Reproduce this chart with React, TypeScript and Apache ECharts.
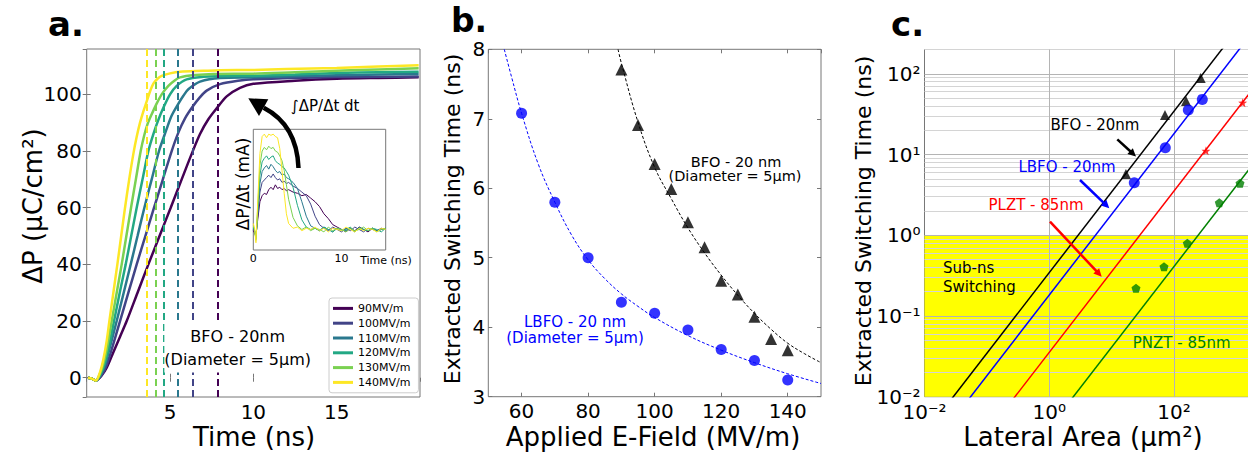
import React, { useEffect, useRef } from 'react';
import * as echarts from 'echarts';

const FONT = 'DejaVu Sans';

// ---------- Panel a: polarization curves ----------
const CURVE_NAMES = ['90MV/m', '100MV/m', '110MV/m', '120MV/m', '130MV/m', '140MV/m'];
const VIRIDIS = ['#440154', '#414487', '#2a788e', '#22a884', '#7ad151', '#fde725'];
const SWITCH_T = [7.86, 6.34, 5.46, 4.62, 4.16, 3.6];

const C90 = [[0.08, 0], [0.3, -0.3], [0.55, -1], [0.9, 0.8], [1.2, 3.5], [1.6, 9], [2.0, 14.5], [2.4, 20], [3.05, 30], [3.7, 40], [4.37, 50], [5.04, 60], [5.7, 70], [6.3, 79], [6.8, 86], [7.3, 91.2], [7.86, 95.5], [8.4, 99.3], [9.2, 102.3], [10, 103.7], [12.5, 104.8], [15, 105.5], [17.5, 105.8], [19.92, 106]];
const C100 = [[0.08, 0], [0.3, -0.3], [0.55, -1], [0.9, 1], [1.2, 4.5], [1.55, 11], [2.0, 20], [2.5, 30], [3.0, 40], [3.52, 50], [4.04, 60], [4.57, 70], [5.1, 80], [5.5, 86.5], [5.9, 91.5], [6.34, 95.5], [6.8, 99], [7.2, 101.3], [8, 103.6], [9.2, 104.9], [10, 105.3], [12.5, 105.8], [15, 106.1], [17.5, 106.2], [19.92, 106.3]];
const C110 = [[0.08, 0], [0.3, -0.3], [0.55, -1], [0.85, 1.2], [1.1, 4.5], [1.4, 11], [1.8, 20], [2.22, 30], [2.64, 40], [3.05, 50], [3.46, 60], [3.9, 70], [4.34, 80], [4.75, 87], [5.1, 92.5], [5.46, 96.3], [5.8, 99.5], [6.1, 101.8], [6.8, 104.5], [8, 105.8], [10, 106], [12.5, 106.4], [15, 106.7], [17.5, 107], [19.92, 107.2]];
const C120 = [[0.08, 0], [0.3, -0.3], [0.55, -1], [0.85, 1.5], [1.05, 4.5], [1.3, 10], [1.64, 20], [2.0, 30.5], [2.34, 40], [2.67, 50], [3.0, 60], [3.35, 70], [3.7, 80], [4.0, 86], [4.3, 91], [4.62, 95.5], [5.0, 100], [5.4, 103], [6.0, 105.3], [7, 106.2], [8, 106.4], [10, 106.5], [12.5, 107], [15, 107.5], [17.5, 107.8], [19.92, 108]];
const C130 = [[0.08, 0], [0.3, -0.3], [0.55, -1], [0.8, 1.5], [1.0, 5], [1.2, 10], [1.5, 20], [1.8, 30], [2.1, 40], [2.38, 50], [2.66, 60], [2.95, 70], [3.24, 80], [3.45, 85.5], [3.65, 89.5], [3.9, 93], [4.16, 96.3], [4.5, 100], [4.9, 103], [5.3, 105], [5.6, 106], [6.5, 106.8], [7.6, 107.2], [10, 107.3], [12.5, 107.8], [15, 108.3], [17.5, 108.8], [19.92, 109.2]];
const C140 = [[0.08, 0], [0.3, -0.3], [0.55, -1], [0.8, 2], [1.0, 6.5], [1.2, 13], [1.36, 20], [1.6, 30], [1.84, 40], [2.07, 50], [2.3, 60], [2.55, 70], [2.8, 79], [3.0, 85], [3.2, 90], [3.4, 94], [3.6, 97.5], [3.8, 101], [4.0, 103.8], [4.25, 105.5], [4.5, 106.5], [5.0, 107.4], [5.6, 108], [7, 108.3], [8, 108.5], [10, 108.6], [12, 108.9], [15, 109.3], [17.5, 109.8], [19.92, 110.3]];
const CURVES = [C90, C100, C110, C120, C130, C140];

// ---------- Panel a inset: current transients (arbitrary units) ----------
const INSET_T = [0, 0.15, 0.3, 0.5, 0.75, 1, 1.25, 1.5, 1.75, 2, 2.25, 2.5, 2.75, 3, 3.25, 3.5, 3.75, 4, 4.5, 5, 5.5, 6, 6.5, 7, 7.5, 8, 8.5, 9, 9.5, 10, 10.5, 11, 11.5, 12, 12.5, 13, 13.5, 14, 14.5, 15];
const I90 = [16, 14, 12, 25, 40, 45, 47, 46, 50, 52, 50, 54, 51, 52, 50, 51, 49, 50, 48, 47, 45, 46, 43, 40, 36, 30, 26, 21, 19, 17, 15, 18, 16, 19, 17, 15, 18, 16, 17, 18];
const I100 = [17, 15, 11, 28, 48, 56, 58, 60, 62, 60, 63, 60, 58, 59, 56, 57, 55, 56, 53, 51, 48, 45, 38, 28, 21, 18, 16, 19, 17, 15, 18, 16, 19, 17, 15, 18, 17, 16, 18, 17];
const I110 = [18, 16, 10, 30, 55, 65, 68, 70, 67, 71, 69, 66, 64, 65, 62, 63, 60, 59, 56, 51, 40, 28, 20, 18, 16, 19, 17, 15, 18, 17, 16, 18, 15, 19, 17, 16, 18, 16, 17, 18];
const I120 = [19, 16, 9, 32, 62, 73, 76, 78, 75, 77, 78, 74, 72, 71, 69, 68, 65, 62, 52, 37, 25, 19, 17, 18, 16, 19, 17, 15, 18, 16, 17, 19, 15, 18, 17, 16, 18, 17, 15, 18];
const I130 = [20, 17, 8, 35, 70, 82, 85, 83, 86, 84, 85, 82, 81, 78, 74, 66, 54, 42, 27, 20, 17, 19, 16, 18, 17, 15, 19, 16, 18, 17, 15, 18, 16, 17, 19, 16, 18, 15, 17, 18];
const I140 = [22, 18, 6, 40, 80, 94, 96, 93, 96, 95, 96, 94, 93, 84, 66, 47, 30, 22, 18, 19, 16, 18, 17, 19, 16, 18, 15, 18, 17, 16, 19, 17, 15, 18, 16, 18, 17, 15, 18, 17];
const INSET = [I90, I100, I110, I120, I130, I140];

// ---------- Panel b: switching time vs field ----------
const E_LBFO = [60, 70, 80, 90, 100, 110, 120, 130, 140];
const T_LBFO = [7.08, 5.8, 5.0, 4.36, 4.2, 3.96, 3.68, 3.52, 3.24];
const E_BFO = [90, 95, 100, 105, 110, 115, 120, 125, 130, 135, 140];
const T_BFO = [7.71, 6.91, 6.35, 5.99, 5.51, 5.15, 4.67, 4.47, 4.15, 3.83, 3.67];
const FIT_E_LBFO = [54.8, 57, 60, 65, 70, 75, 80, 85, 90, 95, 100, 110, 120, 130, 140, 150];
const FIT_T_LBFO = [8.0, 7.6, 7.08, 6.35, 5.8, 5.33, 4.97, 4.7, 4.48, 4.3, 4.14, 3.88, 3.67, 3.49, 3.33, 3.19];
const FIT_E_BFO = [89, 90, 95, 100, 105, 110, 115, 120, 125, 130, 135, 140, 145, 150];
const FIT_T_BFO = [8.0, 7.8, 6.95, 6.3, 5.85, 5.43, 5.07, 4.75, 4.46, 4.2, 3.97, 3.77, 3.62, 3.49];

// ---------- Panel c: switching time vs lateral area ----------
const AREA_BFO = [16.9, 71.4, 155, 267];
const TIME_BFO = [5.73, 30.8, 45.9, 89];
const AREA_LBFO = [23.0, 72.3, 169, 283];
const TIME_LBFO = [4.47, 12.1, 35.5, 48.2];
const AREA_PLZT = [324, 1256];
const TIME_PLZT = [11.1, 43.8];
const AREA_PNZT = [24.5, 68.9, 163, 530, 1138];
const TIME_PNZT = [0.22, 0.407, 0.794, 2.52, 4.4];
const FIT_AREA = [0.01, 3162];
const FIT_BFO = [0.00345, 1091];
const FIT_LBFO = [0.00182, 575];
const FIT_PLZT = [0.000355, 112];
const FIT_PNZT = [0.0000412, 13.0];

const STAR = 'path://M0,-10 L2.35,-3.24 L9.51,-3.09 L3.8,1.24 L5.88,8.09 L0,4 L-5.88,8.09 L-3.8,1.24 L-9.51,-3.09 L-2.35,-3.24 Z';
const PENTA = 'path://M0,-10 L9.51,-3.09 L5.88,8.09 L-5.88,8.09 L-9.51,-3.09 Z';

const zip = (a: number[], b: number[]) => a.map((v, i) => [v, b[i]]);

const SUP: Record<string, string> = { '-': '\u207B', '0': '\u2070', '1': '\u00B9', '2': '\u00B2', '3': '\u00B3', '4': '\u2074' };
const pow10Label = (evenOnly: boolean) => (v: number) => {
  const l = Math.log10(v);
  const e = Math.round(l);
  if (Math.abs(l - e) > 1e-6) return '';
  if (evenOnly && e % 2 !== 0) return '';
  return '10' + String(e).split('').map((c) => SUP[c]).join('');
};

const FRAME = '#777';
const tickIn = { show: true, inside: true, length: 4, lineStyle: { color: FRAME } };

function txt(x: number, y: number, text: string, size: number, fill = '#000', extra: any = {}) {
  return {
    type: 'text', x, y, z: 100, rotation: extra.rotation || 0,
    style: { text, fill, fontSize: size, fontFamily: FONT, fontWeight: extra.weight || 'normal', align: extra.align || 'center', verticalAlign: 'middle', ...(extra.style || {}) },
  };
}

function arrow(x1: number, y1: number, x2: number, y2: number, color: string, w: number, hl: number, hw: number) {
  const dx = x2 - x1, dy = y2 - y1, L = Math.hypot(dx, dy);
  const ux = dx / L, uy = dy / L, px = -uy, py = ux;
  const bx = x2 - ux * hl, by = y2 - uy * hl;
  return [
    { type: 'line', z: 100, shape: { x1, y1, x2: bx + ux, y2: by + uy }, style: { stroke: color, lineWidth: w } },
    { type: 'polygon', z: 100, shape: { points: [[x2, y2], [bx + px * hw, by + py * hw], [bx - px * hw, by - py * hw]] }, style: { fill: color } },
  ];
}

function buildOption(): any {
  const grids = [
    { left: 86.7, top: 49, width: 333.3, height: 348 },
    { left: 253.3, top: 129.3, width: 132.4, height: 120.7, backgroundColor: '#fff' },
    { left: 488.3, top: 49.3, width: 332.7, height: 347.4 },
    { left: 924.5, top: 49.5, width: 343.2, height: 347.2 },
  ].map((g) => ({ show: true, borderColor: FRAME, borderWidth: 1, backgroundColor: 'transparent', containLabel: false, outerBoundsMode: 'none', ...g }));

  const lbl = { color: '#000', fontSize: 20, fontFamily: FONT };
  const hidden = { axisLine: { show: false }, axisLabel: { show: false }, splitLine: { show: false } };

  const xAxis = [
    { gridIndex: 0, type: 'value', min: 0, max: 20, interval: 5, axisLine: { show: false }, splitLine: { show: false }, axisTick: tickIn, axisLabel: { ...lbl, margin: 5, showMinLabel: false, showMaxLabel: false } },
    { gridIndex: 0, type: 'value', position: 'top', min: 0, max: 20, interval: 5, axisTick: tickIn, ...hidden },
    { gridIndex: 1, type: 'value', min: 0, max: 15, interval: 10, axisLine: { show: false }, splitLine: { show: false }, axisTick: { show: false }, axisLabel: { color: '#000', fontSize: 11, fontFamily: FONT, margin: 3, showMaxLabel: false } },
    { gridIndex: 2, type: 'value', min: 50, max: 150, splitNumber: 5, axisLine: { show: false }, splitLine: { show: false }, axisTick: tickIn, axisLabel: { ...lbl, margin: 4, showMinLabel: false, showMaxLabel: false } },
    { gridIndex: 2, type: 'value', position: 'top', min: 50, max: 150, splitNumber: 5, axisTick: tickIn, ...hidden },
    { gridIndex: 3, type: 'log', logBase: 10, min: 0.01, max: 3162.28, axisLine: { show: false }, splitLine: { show: false }, axisTick: { show: false }, axisLabel: { ...lbl, margin: 5, showMaxLabel: false, formatter: pow10Label(true) } },
  ];
  const yAxis = [
    { gridIndex: 0, type: 'value', min: -6.8, max: 116, splitNumber: 6, axisLine: { show: false }, splitLine: { show: false }, axisTick: tickIn, axisLabel: { ...lbl, margin: 5, showMinLabel: false, showMaxLabel: false } },
    { gridIndex: 0, type: 'value', position: 'right', min: -6.8, max: 116, splitNumber: 6, axisTick: tickIn, ...hidden },
    { gridIndex: 1, type: 'value', min: 0, max: 100, axisTick: { show: false }, ...hidden },
    { gridIndex: 2, type: 'value', min: 3, max: 8, interval: 1, axisLine: { show: false }, splitLine: { show: false }, axisTick: tickIn, axisLabel: { ...lbl, margin: 3 } },
    { gridIndex: 2, type: 'value', position: 'right', min: 3, max: 8, interval: 1, axisTick: tickIn, ...hidden },
    { gridIndex: 3, type: 'log', logBase: 10, min: 0.01, max: 200, axisLine: { show: false }, splitLine: { show: false }, axisTick: { show: false }, axisLabel: { ...lbl, margin: 4, formatter: pow10Label(false) } },
  ];

  const series: any[] = [];
  // panel a main curves
  CURVES.forEach((c, i) => {
    series.push({
      name: CURVE_NAMES[i], type: 'line', xAxisIndex: 0, yAxisIndex: 0, data: c, showSymbol: false, color: VIRIDIS[i],
      smooth: 0.3, lineStyle: { width: 2.5, color: VIRIDIS[i] }, z: 3,
      markLine: { silent: true, z: 4, symbol: ['none', 'none'], label: { show: false }, lineStyle: { color: VIRIDIS[i], width: 2, type: [7, 4] }, data: [{ xAxis: SWITCH_T[i] }] },
    });
  });
  // inset
  INSET.forEach((v, i) => {
    series.push({ name: 'inset ' + CURVE_NAMES[i], type: 'line', xAxisIndex: 2, yAxisIndex: 2, data: zip(INSET_T, v), showSymbol: false, lineStyle: { width: 1, color: VIRIDIS[i] }, color: VIRIDIS[i], z: 3 });
  });
  // panel b
  series.push({ name: 'LBFO fit', type: 'line', xAxisIndex: 3, yAxisIndex: 3, data: zip(FIT_E_LBFO, FIT_T_LBFO), smooth: 0.4, showSymbol: false, lineStyle: { width: 1, color: '#0000ff', type: [3, 2] }, z: 3 });
  series.push({ name: 'BFO fit', type: 'line', xAxisIndex: 3, yAxisIndex: 3, data: zip(FIT_E_BFO, FIT_T_BFO), smooth: 0.4, showSymbol: false, lineStyle: { width: 1, color: '#000', type: [3, 2] }, z: 3 });
  series.push({ name: 'LBFO', type: 'scatter', xAxisIndex: 3, yAxisIndex: 3, data: zip(E_LBFO, T_LBFO), symbol: 'circle', symbolSize: 11, itemStyle: { color: '#0000ff' }, z: 4 });
  series.push({ name: 'BFO', type: 'scatter', xAxisIndex: 3, yAxisIndex: 3, data: zip(E_BFO, T_BFO), symbol: 'triangle', symbolSize: 12, itemStyle: { color: '#000' }, z: 4 });

  // panel c background band + grid lines
  series.push({ name: 'subns', type: 'line', xAxisIndex: 5, yAxisIndex: 5, data: [], z: 1, silent: true, markArea: { silent: true, z: 1, itemStyle: { color: '#ffff00', opacity: 1 }, data: [[{ yAxis: 0.01 }, { yAxis: 1 }]] } });
  const gl: any[] = [];
  for (let k = -2; k <= 2; k++) {
    for (let m = 1; m <= 9; m++) {
      const v = m * Math.pow(10, k);
      if (v > 200 || (k === -2 && m === 1)) continue;
      gl.push({ yAxis: v, lineStyle: { color: m === 1 ? '#b4b4b4' : '#d4d4d4', width: 1, type: 'solid' } });
    }
  }
  gl.push({ xAxis: 1, lineStyle: { color: '#b4b4b4', width: 1, type: 'solid' } });
  gl.push({ xAxis: 100, lineStyle: { color: '#b4b4b4', width: 1, type: 'solid' } });
  series.push({ name: 'cgrid', type: 'line', xAxisIndex: 5, yAxisIndex: 5, data: [], z: 2, silent: true, markLine: { silent: true, z: 2, symbol: ['none', 'none'], label: { show: false }, lineStyle: { type: 'solid' }, data: gl } });

  const fits: [number[], string][] = [[FIT_BFO, '#000'], [FIT_LBFO, '#0000ff'], [FIT_PLZT, '#ff0000'], [FIT_PNZT, '#008000']];
  fits.forEach(([f, col], i) => {
    series.push({ name: 'cfit' + i, type: 'line', xAxisIndex: 5, yAxisIndex: 5, data: zip(FIT_AREA, f), showSymbol: false, lineStyle: { width: 1.5, color: col }, z: 6 });
  });
  series.push({ name: 'c BFO', type: 'scatter', xAxisIndex: 5, yAxisIndex: 5, data: zip(AREA_BFO, TIME_BFO), symbol: 'triangle', symbolSize: 10, itemStyle: { color: '#000' }, z: 7 });
  series.push({ name: 'c LBFO', type: 'scatter', xAxisIndex: 5, yAxisIndex: 5, data: zip(AREA_LBFO, TIME_LBFO), symbol: 'circle', symbolSize: 11, itemStyle: { color: '#0000ff' }, z: 7 });
  series.push({ name: 'c PLZT', type: 'scatter', xAxisIndex: 5, yAxisIndex: 5, data: zip(AREA_PLZT, TIME_PLZT), symbol: STAR, symbolSize: 9, itemStyle: { color: '#ff0000' }, z: 7 });
  series.push({ name: 'c PNZT', type: 'scatter', xAxisIndex: 5, yAxisIndex: 5, data: zip(AREA_PNZT, TIME_PNZT), symbol: PENTA, symbolSize: 9, itemStyle: { color: '#008000' }, z: 7 });

  const R90 = Math.PI / 2;
  const graphic: any[] = [
    // panel letters
    txt(48, 24, 'a.', 34, '#000', { align: 'left', weight: 'bold' }),
    txt(451, 20, 'b.', 33, '#000', { align: 'left', weight: 'bold' }),
    txt(891, 24, 'c.', 34, '#000', { align: 'left', weight: 'bold' }),
    // axis titles
    txt(33, 206, '\u0394P (\u03BCC/cm\u00B2)', 26, '#000', { rotation: R90 }),
    txt(254, 437, 'Time (ns)', 26),
    txt(452, 219, 'Extracted Switching Time (ns)', 22, '#000', { rotation: R90 }),
    txt(653, 437, 'Applied E-Field (MV/m)', 26),
    txt(863, 221, 'Extracted Switching Time (ns)', 22, '#000', { rotation: R90 }),
    txt(1083, 437, 'Lateral Area (\u03BCm\u00B2)', 26),
    // inset titles
    txt(243, 184, '\u0394P/\u0394t (mA)', 17, '#000', { rotation: R90 }),
    txt(386, 260, 'Time (ns)', 11),
    // panel a annotations
    txt(291, 106, '\u222B\u0394P/\u0394t dt', 15, '#000', { align: 'left' }),
    txt(237.7, 347.5, 'BFO - 20nm\n(Diameter = 5\u03BCm)', 16, '#000', { style: { lineHeight: 23, backgroundColor: '#fff', padding: [2, 0] } }),
    { type: 'bezierCurve', z: 100, shape: { x1: 298.5, y1: 168, cpx1: 297, cpy1: 125, x2: 263.7, y2: 107.7 }, style: { stroke: '#000', lineWidth: 4.5, fill: null } },
    { type: 'polygon', z: 100, shape: { points: [[248.3, 98.3], [268.3, 99.3], [259, 116]] }, style: { fill: '#000' } },
    // panel b annotations
    txt(736, 161.5, 'BFO - 20 nm', 14.5),
    txt(735, 176, '(Diameter = 5\u03BCm)', 14.5),
    txt(575, 321.5, 'LBFO - 20 nm', 15, '#0000ff'),
    txt(575, 337.5, '(Diameter = 5\u03BCm)', 15, '#0000ff'),
    // panel c annotations
    txt(1095, 125, 'BFO - 20nm', 15),
    txt(1067, 166.7, 'LBFO - 20nm', 15, '#0000ff'),
    txt(1036, 205, 'PLZT - 85nm', 15, '#ff0000'),
    txt(943, 268.3, 'Sub-ns', 15, '#000', { align: 'left' }),
    txt(943, 286.7, 'Switching', 15, '#000', { align: 'left' }),
    txt(1181.7, 343.3, 'PNZT - 85nm', 15, '#008000'),
    ...arrow(1117.3, 139.3, 1136, 156.5, '#000', 2.5, 8, 4),
    ...arrow(1080, 180, 1109.3, 208.3, '#0000ff', 2.5, 8, 4),
    ...arrow(1050, 221.7, 1101.7, 276.7, '#ff0000', 2.5, 8, 4),
  ];

  return {
    animation: false,
    backgroundColor: '#fff',
    textStyle: { fontFamily: FONT },
    grid: grids,
    xAxis,
    yAxis,
    legend: {
      data: CURVE_NAMES, left: 329, top: 298, orient: 'vertical', icon: 'rect', itemWidth: 20, itemHeight: 3, itemGap: 0,
      padding: [3, 8, 3, 4], backgroundColor: '#fff', borderColor: '#ccc', borderWidth: 1, borderRadius: 3, selectedMode: false,
      textStyle: { fontSize: 11, lineHeight: 14.8, color: '#000', fontFamily: FONT },
    },
    series,
    graphic,
  };
}

export default function App() {
  const ref = useRef<HTMLDivElement>(null);
  useEffect(() => {
    const chart = echarts.init(ref.current!, null, { renderer: 'svg' });
    chart.setOption(buildOption());
    return () => chart.dispose();
  }, []);
  return <div ref={ref} style={{ position: 'fixed', left: 0, top: 0, width: 1248, height: 453, background: '#fff' }} />;
}
